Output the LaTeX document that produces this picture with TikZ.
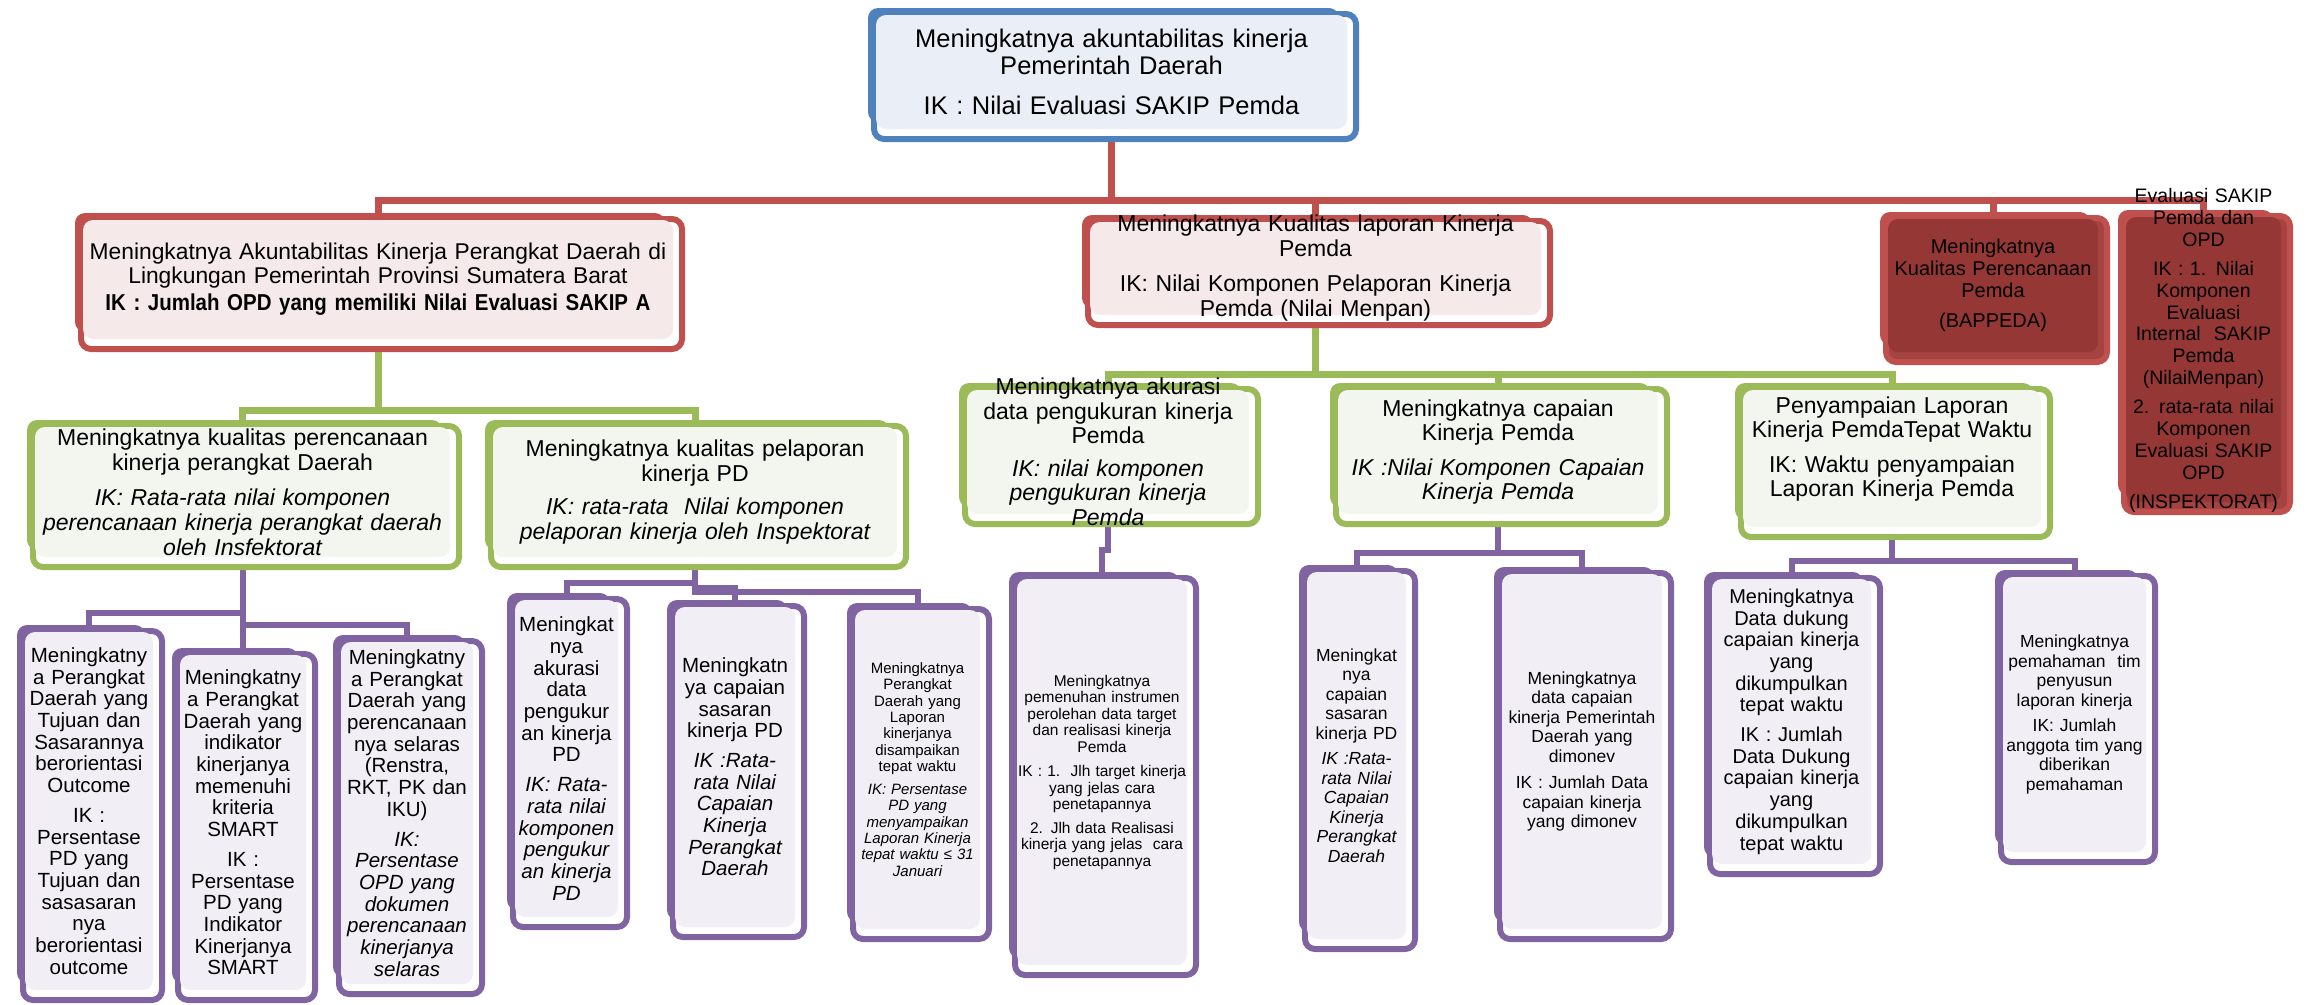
\documentclass[tikz,border=0pt]{standalone}
\usepackage{fontspec}
\setmainfont{Liberation Sans}
\newfontfamily\narrowbold[FakeStretch=0.89]{Liberation Sans Bold}
\usepackage{tikz}
\definecolor{bluerim}{HTML}{4F81BD}
\definecolor{bluefill}{HTML}{EAEFF7}
\definecolor{redrim}{HTML}{C0504D}
\definecolor{redfill}{HTML}{F6E9E9}
\definecolor{darkfill}{HTML}{953735}
\definecolor{darkgap}{HTML}{A54341}
\definecolor{greenrim}{HTML}{9BBB59}
\definecolor{greenfill}{HTML}{F3F6EE}
\definecolor{purprim}{HTML}{8064A2}
\definecolor{purpfill}{HTML}{F1EFF5}
\pgfdeclarelayer{bg}
\pgfdeclarelayer{mid}
\pgfsetlayers{bg,mid,main}

\begin{document}
\begin{tikzpicture}[x=1pt, y=-1pt,
    orgbox/.style 2 args={rounded corners=10pt, fill=#2, align=center, anchor=north west,
      outer sep=0pt, inner xsep=-40pt, inner ysep=-80pt,
      preaction={fill=#1, transform canvas={shift={(-8pt,7pt)}}}},
    topbox/.style={orgbox={bluerim}{bluefill}},
    redbox/.style={orgbox={redrim}{redfill}},
    darkbox/.style={orgbox={redrim}{darkfill}},
    greenbox/.style={orgbox={greenrim}{greenfill}},
    purpbox/.style={orgbox={purprim}{purpfill}},
    fs/.style 2 args={font=\fontsize{#1}{#2}\selectfont},
    rim/.style={draw=#1, line width=6pt, rounded corners=10pt},
    link/.style={draw=#1, line width=7pt}
  ]
  \useasboundingbox (0,0) rectangle (2307,1004);

  \node[topbox, fs={25.5}{27}, minimum width=471, minimum height=114, text width=531] (tujuan) at (876,15)
    {Meningkatnya akuntabilitas kinerja\\Pemerintah Daerah\\[13pt]IK : Nilai Evaluasi SAKIP Pemda};

  \node[redbox, fs={22.8}{23.5}, minimum width=590, minimum height=119, text width=650] (akuntabilitas) at (83,220)
    {Meningkatnya Akuntabilitas Kinerja Perangkat Daerah di\\Lingkungan Pemerintah Provinsi Sumatera Barat\\[4pt]{\narrowbold\fontsize{23}{25}\selectfont IK : Jumlah OPD yang memiliki Nilai Evaluasi SAKIP A}};
  \node[redbox, fs={23}{25}, minimum width=451, minimum height=93, text width=511] (laporan) at (1090,222)
    {Meningkatnya Kualitas laporan Kinerja\\Pemda\\[10pt]IK: Nilai Komponen Pelaporan Kinerja\\Pemda (Nilai Menpan)};
  \node[darkbox, fs={20}{22}, minimum width=210, minimum height=133, text width=270] (bappeda) at (1888,219)
    {Meningkatnya\\Kualitas Perencanaan\\Pemda\\[8pt](BAPPEDA)};
  \node[darkbox, fs={19.5}{21.7}, minimum width=155, minimum height=285, text width=215] (inspektorat) at (2126,217)
    {Evaluasi SAKIP\\Pemda dan\\OPD\\[8pt]IK : 1. Nilai\\Komponen\\Evaluasi\\Internal\ \ SAKIP\\Pemda\\(NilaiMenpan)\\[8pt]2. rata-rata nilai\\Komponen\\Evaluasi SAKIP\\OPD\\[8pt](INSPEKTORAT)\\[0pt]\mbox{}};

  \node[greenbox, fs={23}{25}, minimum width=415, minimum height=130, text width=475] (perencanaan) at (35,427)
    {Meningkatnya kualitas perencanaan\\kinerja perangkat Daerah\\[10pt]\itshape IK: Rata-rata nilai komponen\\perencanaan kinerja perangkat daerah\\oleh Insfektorat};
  \node[greenbox, fs={23}{25}, minimum width=404, minimum height=130, text width=464] (pelaporan) at (493,427)
    {Meningkatnya kualitas pelaporan\\kinerja PD\\[8pt]\itshape IK: rata-rata\ \ Nilai komponen\\pelaporan kinerja oleh Inspektorat};
  \node[greenbox, fs={23}{24.5}, minimum width=282, minimum height=124, text width=342] (akurasi) at (967,390)
    {Meningkatnya akurasi\\data pengukuran kinerja\\Pemda\\[8pt]\itshape IK: nilai komponen\\pengukuran kinerja\\Pemda};
  \node[greenbox, fs={23}{23.5}, minimum width=320, minimum height=124, text width=380] (capaian) at (1338,390)
    {Meningkatnya capaian\\Kinerja Pemda\\[12pt]\itshape IK :Nilai Komponen Capaian\\Kinerja Pemda};
  \node[greenbox, fs={23}{24}, minimum width=298, minimum height=137, text width=358] (tepatwaktu) at (1743,390)
    {Penyampaian Laporan\\Kinerja PemdaTepat Waktu\\[11pt]IK: Waktu penyampaian\\Laporan Kinerja Pemda\\[0pt]\mbox{}};

  \node[purpbox, fs={20.5}{21.7}, minimum width=128, minimum height=358, text width=188] (outcome) at (25,632)
    {Meningkatny\\a Perangkat\\Daerah yang\\Tujuan dan\\Sasarannya\\berorientasi\\Outcome\\[8pt]IK :\\Persentase\\PD yang\\Tujuan dan\\sasasaran\\nya\\berorientasi\\outcome};
  \node[purpbox, fs={20.5}{21.7}, minimum width=126, minimum height=335, text width=186] (smart) at (180,655)
    {Meningkatny\\a Perangkat\\Daerah yang\\indikator\\kinerjanya\\memenuhi\\kriteria\\SMART\\[8pt]IK :\\Persentase\\PD yang\\Indikator\\Kinerjanya\\SMART};
  \node[purpbox, fs={20.5}{21.7}, minimum width=132, minimum height=342, text width=192] (selaras) at (341,642)
    {Meningkatny\\a Perangkat\\Daerah yang\\perencanaan\\nya selaras\\(Renstra,\\RKT, PK dan\\IKU)\\[8pt]\itshape IK:\\Persentase\\OPD yang\\dokumen\\perencanaan\\kinerjanya\\selaras};
  \node[purpbox, fs={20.5}{21.7}, minimum width=103, minimum height=317, text width=163] (akurasipd) at (515,600)
    {Meningkat\\nya\\akurasi\\data\\pengukur\\an kinerja\\PD\\[8pt]\itshape IK: Rata-\\rata nilai\\komponen\\pengukur\\an kinerja\\PD};
  \node[purpbox, fs={20.5}{21.7}, minimum width=120, minimum height=320, text width=180] (sasaranpd) at (675,607)
    {Meningkatn\\ya capaian\\sasaran\\kinerja PD\\[8pt]\itshape IK :Rata-\\rata Nilai\\Capaian\\Kinerja\\Perangkat\\Daerah};
  \node[purpbox, fs={15}{16.3}, minimum width=125, minimum height=319, text width=185] (lapwaktu) at (855,610)
    {Meningkatnya\\Perangkat\\Daerah yang\\Laporan\\kinerjanya\\disampaikan\\tepat waktu\\[7pt]\itshape IK: Persentase\\PD yang\\menyampaikan\\Laporan Kinerja\\tepat waktu ≤ 31\\Januari};
  \node[purpbox, fs={15.5}{16.5}, minimum width=170, minimum height=386, text width=230] (instrumen) at (1017,579)
    {Meningkatnya\\pemenuhan instrumen\\perolehan data target\\dan realisasi kinerja\\Pemda\\[8pt]IK : 1.\ \ Jlh target kinerja\\yang jelas cara\\penetapannya\\[7pt]2. Jlh data Realisasi\\kinerja yang jelas\ \ cara\\penetapannya};
  \node[purpbox, fs={17.5}{19.5}, minimum width=99, minimum height=367, text width=159] (sasaran) at (1307,572)
    {Meningkat\\nya\\capaian\\sasaran\\kinerja PD\\[6pt]\itshape IK :Rata-\\rata Nilai\\Capaian\\Kinerja\\Perangkat\\Daerah};
  \node[purpbox, fs={17.5}{19.5}, minimum width=160, minimum height=355, text width=220] (monev) at (1502,574)
    {Meningkatnya\\data capaian\\kinerja Pemerintah\\Daerah yang\\dimonev\\[7pt]IK : Jumlah Data\\capaian kinerja\\yang dimonev};
  \node[purpbox, fs={20}{21.7}, minimum width=159, minimum height=285, text width=219] (dukung) at (1712,579)
    {Meningkatnya\\Data dukung\\capaian kinerja\\yang\\dikumpulkan\\tepat waktu\\[8pt]IK : Jumlah\\Data Dukung\\capaian kinerja\\yang\\dikumpulkan\\tepat waktu};
  \node[purpbox, fs={17.5}{19.5}, minimum width=143, minimum height=275, text width=203] (pemahaman) at (2003,577)
    {Meningkatnya\\pemahaman\ \ tim\\penyusun\\laporan kinerja\\[6pt]IK: Jumlah\\anggota tim yang\\diberikan\\pemahaman};

  \begin{pgfonlayer}{mid}
    \foreach \n/\col in {tujuan/bluerim, akuntabilitas/redrim, laporan/redrim, bappeda/redrim, inspektorat/redrim,
        perencanaan/greenrim, pelaporan/greenrim, akurasi/greenrim, capaian/greenrim, tepatwaktu/greenrim}
      \draw[rim=\col] ([shift={(-2pt,1pt)}]\n.north west) rectangle ([shift={(9pt,-10pt)}]\n.south east);
    \foreach \n in {outcome,smart,selaras,akurasipd,sasaranpd,lapwaktu,instrumen,sasaran,monev,dukung,pemahaman}
      \draw[rim=purprim] ([shift={(-2pt,1pt)}]\n.north west) rectangle ([shift={(9pt,-10pt)}]\n.south east);
  \end{pgfonlayer}

  \begin{pgfonlayer}{bg}
    \foreach \n in {bappeda,inspektorat}
      \fill[darkgap, rounded corners=10pt] ([shift={(-2pt,1pt)}]\n.north west) rectangle ([shift={(9pt,-10pt)}]\n.south east);
    \foreach \n in {akuntabilitas,laporan,bappeda,inspektorat}
      \draw[link=redrim] ([yshift=-12pt]tujuan.south) |- (\n.north |- 0,200) -- ([yshift=7pt]\n.north);
    \foreach \src/\n/\bus in {akuntabilitas/perencanaan/410, akuntabilitas/pelaporan/410,
        laporan/akurasi/374, laporan/capaian/374, laporan/tepatwaktu/374}
      \draw[link=greenrim] ([yshift=-12pt]\src.south) |- (\n.north |- 0,\bus) -- ([yshift=7pt]\n.north);
    \foreach \src/\n/\bus in {perencanaan/outcome/613, perencanaan/smart/625, perencanaan/selaras/625,
        pelaporan/akurasipd/583, pelaporan/sasaranpd/588, pelaporan/lapwaktu/592,
        akurasi/instrumen/550, capaian/sasaran/553, capaian/monev/553,
        tepatwaktu/dukung/561, tepatwaktu/pemahaman/561}
      \draw[link=purprim, line width=6pt] ([yshift=-12pt]\src.south) |- (\n.north |- 0,\bus) -- ([yshift=7pt]\n.north);
  \end{pgfonlayer}
\end{tikzpicture}
\end{document}
